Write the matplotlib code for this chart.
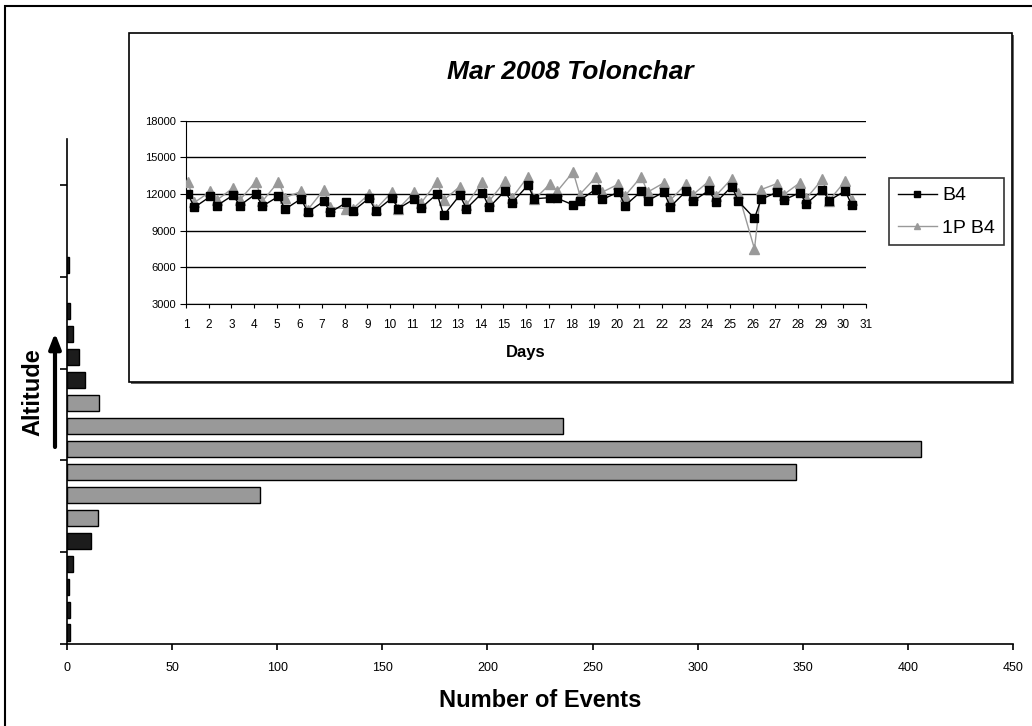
import matplotlib
matplotlib.use("Agg")
import matplotlib.pyplot as plt
from matplotlib.patches import Rectangle
import numpy as np

plt.rcParams['font.family'] = ['Liberation Sans', 'DejaVu Sans']

# event counts per altitude bin, lowest bin first
events = [1.3, 1.4, 0.8, 2.7, 11.3, 14.7, 91.7, 347, 406, 236, 15.4,
          8.4, 5.9, 2.7, 1.4, 0, 1, 0, 0, 0, 0, 0]
# bins inside the main layer
layer_bins = [5, 6, 7, 8, 9, 10]

# March 2008, Tolonchar: two readings per day
days = [1.08, 1.37, 2.08, 2.37, 3.08, 3.37, 4.08, 4.37, 5.08, 5.37,
        6.08, 6.37, 7.08, 7.37, 8.08, 8.37, 9.08, 9.37, 10.08, 10.37,
        11.08, 11.37, 12.08, 12.37, 13.08, 13.37, 14.08, 14.37, 15.08, 15.37,
        16.08, 16.37, 17.08, 17.37, 18.08, 18.37, 19.08, 19.37, 20.08, 20.37,
        21.08, 21.37, 22.08, 22.37, 23.08, 23.37, 24.08, 24.37, 25.08, 25.37,
        26.08, 26.37, 27.08, 27.37, 28.08, 28.37, 29.08, 29.37, 30.08, 30.37]
b4 = [12000, 10900, 11800, 11050, 11900, 11050, 12000, 11000, 11800, 10750,
      11600, 10500, 11400, 10500, 11300, 10600, 11650, 10600, 11650, 10800,
      11600, 10850, 12000, 10250, 11900, 10800, 12100, 10900, 12250, 11250,
      12700, 11600, 11700, 11650, 11100, 11450, 12400, 11550, 12150, 11050,
      12200, 11450, 12150, 10950, 12250, 11400, 12300, 11300, 12600, 11400,
      10000, 11550, 12150, 11500, 12100, 11200, 12350, 11450, 12250, 11100]
p1_b4 = [13000, 11300, 12200, 11500, 12500, 11500, 13000, 11400, 13000, 11700,
         12200, 10700, 12350, 10900, 10800, 10800, 12000, 10750, 12150, 10800,
         12150, 11250, 13000, 11500, 12600, 11100, 13000, 11400, 13050, 11650,
         13400, 11550, 12850, 12200, 13800, 11950, 13350, 12150, 12800, 11850,
         13400, 12150, 12900, 11500, 12850, 11950, 13050, 11850, 13250, 12050,
         7500, 12350, 12850, 11950, 12900, 11650, 13200, 11450, 13050, 11500]

W, H = 1032, 726
fig = plt.figure(figsize=(W / 100, H / 100), dpi=100)

def box(x0, y0, x1, y1):
    # pixel box (top-left origin) -> figure fraction rect
    return [x0 / W, 1 - y1 / H, (x1 - x0) / W, (y1 - y0) / H]

# outer border
fig.patches.append(Rectangle((5 / W, -0.1), 1.2, 1.1 - 6 / H, transform=fig.transFigure,
                             fill=False, edgecolor='black', linewidth=1.5, zorder=1))

# main histogram
ax = fig.add_axes(box(67, 139, 1013, 644))
pos = np.arange(len(events))
colors = ['#999999' if i in layer_bins else '#1c1c1c' for i in pos]
edge_w = [1.0 if v > 0 else 0 for v in events]
ax.barh(pos, events, height=0.7, color=colors, edgecolor='black', linewidth=edge_w)
ax.set_xlim(0, 450)
ax.set_ylim(-0.5, len(events) - 0.5)
ax.set_xticks(np.arange(0, 451, 50))
ax.set_yticks(np.arange(-0.5, len(events), 4))
ax.set_yticklabels([])
for s in ['top', 'right']:
    ax.spines[s].set_visible(False)
for s in ['left', 'bottom']:
    ax.spines[s].set_linewidth(1.2)
ax.tick_params(axis='x', length=4, width=1.2, pad=9, labelsize=9)
ax.tick_params(axis='y', length=5, width=1.2)
ax.set_xlabel('Number of Events', fontsize=17, fontweight='bold', labelpad=11)

fig.text(33 / W, 1 - 392 / H, 'Altitude', rotation=90, fontsize=17, fontweight='bold',
         ha='center', va='center')
fig.add_artist(plt.Annotation('', xy=(55 / W, 1 - 333 / H), xytext=(55 / W, 1 - 447 / H),
                              xycoords='figure fraction', textcoords='figure fraction',
                              arrowprops=dict(arrowstyle='-|>,head_length=0.9,head_width=0.35',
                                              color='black', lw=3, shrinkA=0, shrinkB=0)))

# inset chart frame with a slight shadow
fx0, fy0, fx1, fy1 = 129, 33, 1012, 382
fig.patches.append(Rectangle((fx0 / W + 2 / W, 1 - fy1 / H - 2 / H), (fx1 - fx0) / W, (fy1 - fy0) / H,
                             transform=fig.transFigure, facecolor='#666666', edgecolor='none', zorder=1))
fig.patches.append(Rectangle((fx0 / W, 1 - fy1 / H), (fx1 - fx0) / W, (fy1 - fy0) / H,
                             transform=fig.transFigure, facecolor='white', edgecolor='black',
                             linewidth=1.2, zorder=1.1))

ax2 = fig.add_axes(box(186, 120.5, 866, 304))
ax2.set_zorder(2)
ax2.patch.set_alpha(0)
ax2.plot(days, p1_b4, color='#999999', lw=1, marker='^', ms=7, mfc='#999999', mec='#999999',
         label='1P B4', zorder=3)
ax2.plot(days, b4, color='black', lw=1, marker='s', ms=5.5, mfc='black', mec='black',
         label='B4', zorder=4)
ax2.set_xlim(1, 31)
ax2.set_ylim(3000, 18000)
ax2.set_xticks(np.arange(1, 32))
ax2.set_yticks(np.arange(3000, 18001, 3000))
ax2.grid(axis='y', color='black', lw=1)
for s in ['top', 'right']:
    ax2.spines[s].set_visible(False)
ax2.tick_params(axis='x', length=3, labelsize=8.5, pad=8)
ax2.tick_params(axis='y', length=4, labelsize=8, pad=3)
ax2.set_xlabel('Days', fontsize=12, fontweight='bold', labelpad=10)
ax2.set_title('Mar 2008 Tolonchar', fontsize=19, fontweight='bold', style='italic',
              x=(570 - 186) / 680, pad=30)

h, l = ax2.get_legend_handles_labels()
leg = fig.legend(h[::-1], l[::-1], loc='upper left', bbox_to_anchor=(889 / W, 1 - 178 / H),
                 fontsize=14, frameon=True, fancybox=False, edgecolor='black',
                 handlelength=2.0, borderpad=0.45, labelspacing=0.75, handletextpad=0.3,
                 borderaxespad=0)
leg.get_frame().set_linewidth(1.2)
leg.set_zorder(5)
for lh in leg.legend_handles:
    lh.set_markersize(5)

fig.savefig('out.png', dpi=100)
